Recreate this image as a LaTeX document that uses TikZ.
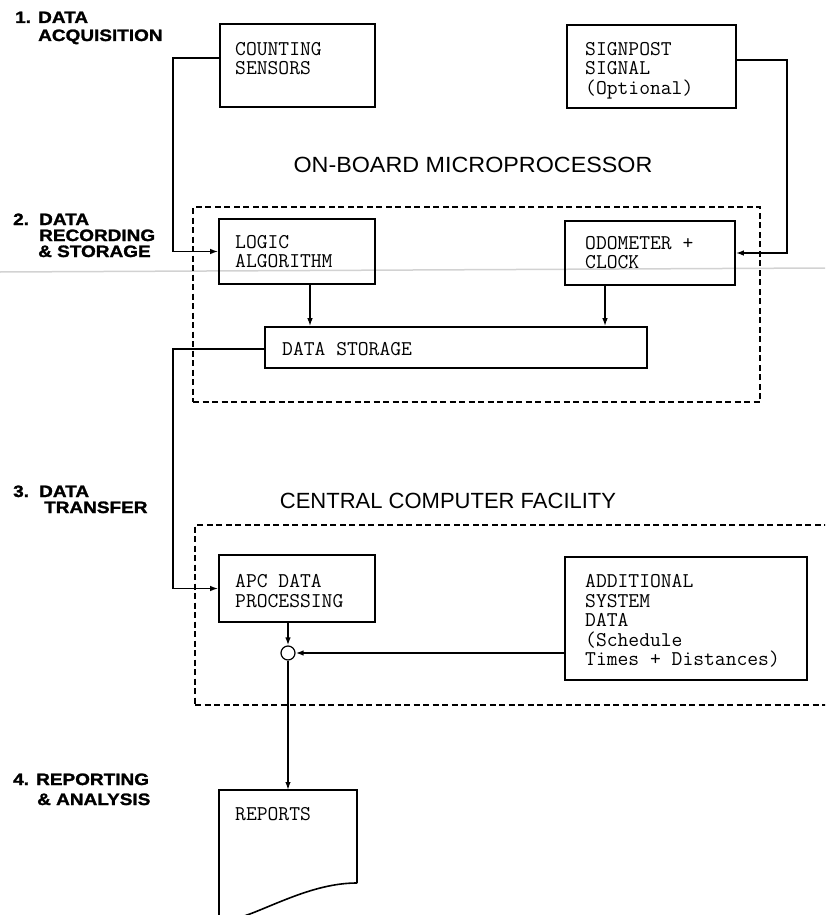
\documentclass[tikz,border=0pt]{standalone}
\usepackage{fontspec}
\usetikzlibrary{arrows.meta,calc}
\newfontfamily\labfont{Liberation Sans}[FakeStretch=1.15, BoldFeatures={FakeBold=1.5}]
\newfontfamily\titfont{Liberation Sans}
\newfontfamily\titfontw{Liberation Sans}[FakeStretch=1.06]
\begin{document}
\begin{tikzpicture}[x=1pt,y=-1pt,
  blk/.style={draw, line width=1.6pt, inner sep=0pt},
  grp/.style={draw, line width=1.3pt, dash pattern=on 6pt off 3.5pt, inner sep=0pt},
  conn/.style={line width=1.5pt},
  arr/.style={conn, -{Latex[length=8pt,width=5.5pt]}},
  txt/.style={font=\fontsize{21}{19.5}\selectfont\ttfamily, align=left, inner sep=0pt, anchor=north west},
  lab/.style={font=\fontsize{16.5}{16}\selectfont\labfont\bfseries, inner sep=0pt, anchor=base west},
  ttl/.style={font=\fontsize{22}{24}\selectfont\titfont, inner sep=0pt, anchor=base}]
\useasboundingbox (0,0) rectangle (825,915);
\clip (0,0) rectangle (825,915);
% faint fold line of the scan
\draw[gray!35, line width=1.5pt] (0,272) -- (825,268);

% stage labels
\node[lab] (l1a) at (15,23) {\makebox[23pt][l]{1.}DATA};
\node[lab] (l1b) at (38,41) {ACQUISITION};
\node[lab] (l2a) at (13,225) {\makebox[26pt][l]{2.}DATA};
\node[lab] (l2b) at (39,241) {RECORDING};
\node[lab] (l2c) at (38,257) {\& STORAGE};
\node[lab] (l3a) at (13,497) {\makebox[26pt][l]{3.}DATA};
\node[lab] (l3b) at (44,513) {TRANSFER};
\node[lab] (l4a) at (13,785) {\makebox[23pt][l]{4.}REPORTING};
\node[lab] (l4b) at (37,805) {\& ANALYSIS};

% titles
\node[ttl, font=\fontsize{22}{24}\selectfont\titfontw] (t1) at (473,172) {ON-BOARD MICROPROCESSOR};
\node[ttl] (t2) at (448,508) {CENTRAL COMPUTER FACILITY};

% groups
\node[grp, minimum width=567pt, minimum height=195pt] (mp) at (476.5,304.5) {};
\node[grp, minimum width=655pt, minimum height=180pt] (cc) at (522.5,615) {};

% boxes
\node[blk, minimum width=155pt, minimum height=83pt] (cs) at (297.5,65.5) {};
\node[txt] (cst) at (235,42.2) {COUNTING\\SENSORS};
\node[blk, minimum width=169pt, minimum height=83pt] (sp) at (651.5,66.5) {};
\node[txt] (spt) at (585,42.2) {SIGNPOST\\SIGNAL\\(Optional)};
\node[blk, minimum width=156pt, minimum height=65pt] (lg) at (297,251.5) {};
\node[txt] (lgt) at (235,235.2) {LOGIC\\ALGORITHM};
\node[blk, minimum width=170pt, minimum height=64pt] (od) at (650,253) {};
\node[txt] (odt) at (585,236.2) {ODOMETER +\\CLOCK};
\node[blk, minimum width=382pt, minimum height=41pt] (ds) at (456,347.5) {};
\node[txt] (dst) at (282,342.2) {DATA STORAGE};
\node[blk, minimum width=156pt, minimum height=67pt] (apc) at (297,588.5) {};
\node[txt] (apct) at (235,574.2) {APC DATA\\PROCESSING};
\node[blk, minimum width=242pt, minimum height=123pt] (add) at (686,618.5) {};
\node[txt] (addt) at (585,574.2) {ADDITIONAL\\SYSTEM\\DATA\\(Schedule\\Times + Distances)};

% reports (document shape)
\node[inner sep=0pt, minimum width=138pt, minimum height=93pt, anchor=north west] (rep) at (219,790) {};
\draw[line width=1.6pt, line join=miter] (357,883) -- (357,790) -- (219,790) -- (219,921)
  .. controls (228,921) and (240,918) .. (255,912)
  .. controls (285,900) and (320,883) .. (357,883);
\node[txt] (rept) at (235,807.2) {REPORTS};

% junction
\node[circle, draw, line width=1.2pt, minimum size=14pt, inner sep=0pt] (jc) at (288,653) {};

% connectors
\coordinate (j1) at (173,58);
\draw[arr] (cs.west |- j1) -- (j1) |- (lg.west);
\coordinate (j2) at (787,60);
\draw[arr] (sp.east |- j2) -- (j2) |- (od.east);
\coordinate (j3) at (173,349);
\draw[arr] (ds.west |- j3) -- (j3) |- (apc.west);
\coordinate (a1) at ([xshift=13pt]lg.south);
\draw[arr] (a1) -- (a1 |- ds.north);
\coordinate (a2) at ([xshift=-45pt]od.south);
\draw[arr] (a2) -- (a2 |- ds.north);
\coordinate (a3) at (jc |- apc.south);
\draw[arr] (a3) -- (jc.north);
\draw[arr] (add.west |- jc) -- (jc.east);
\draw[arr] (jc.south) -- (jc.south |- rep.north);
\end{tikzpicture}
\end{document}
